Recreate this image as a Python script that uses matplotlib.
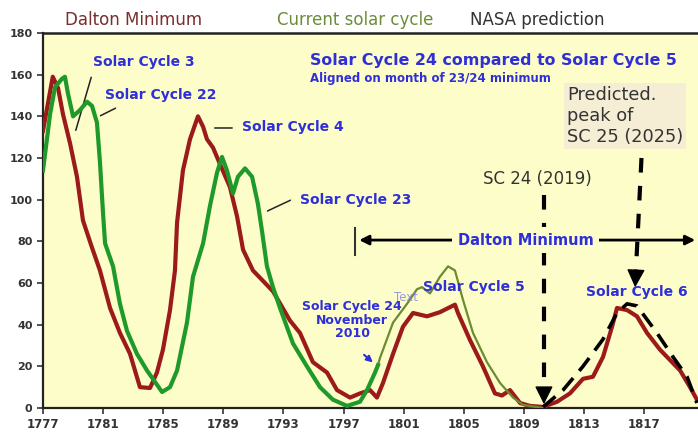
import matplotlib
matplotlib.use("Agg")
import matplotlib.pyplot as plt

# Dalton Minimum (cycles 3 - 6), monthly-ish readings
dalton_year = [1777.00, 1777.65, 1778.00, 1778.33, 1778.80, 1779.26, 1779.66, 1780.26, 1780.79,
               1781.46, 1782.12, 1782.79, 1783.45, 1784.12, 1784.58, 1784.98, 1785.45, 1785.78,
               1785.92, 1786.31, 1786.78, 1787.31, 1787.65, 1787.91, 1788.31, 1788.78, 1789.44,
               1789.91, 1790.31, 1790.97, 1791.64, 1792.30, 1793.43, 1794.10, 1794.96, 1795.90,
               1796.56, 1797.43, 1798.09, 1798.76, 1799.22, 1799.62, 1800.29, 1800.95, 1801.62,
               1802.55, 1803.41, 1804.41, 1804.61, 1805.41, 1806.27, 1807.07, 1807.54, 1808.07,
               1808.74, 1809.40, 1810.27, 1811.20, 1812.06, 1812.93, 1813.59, 1814.26, 1814.86,
               1815.19, 1815.86, 1816.52, 1817.19, 1818.05, 1818.72, 1819.39, 1820.05, 1820.51]
dalton_ssn = [133, 159, 153.6, 141, 127, 111, 90, 77, 66,
              48, 36, 26, 10, 9.6, 17, 28, 47, 66,
              89, 114, 129, 140, 135, 129, 125, 117, 106,
              92, 76, 66, 61, 56, 42, 36, 22, 17,
              8.6, 5, 7, 8.6, 5, 12, 26, 39, 45.6,
              44, 46, 49.6, 45.6, 32.6, 20, 7, 6, 8.6,
              2.4, 1, 0.5, 3, 7, 14, 15, 24.5, 39,
              48, 47, 44, 36, 28, 23, 18, 10, 4]

# current cycles (22, 23, 24) shifted onto the old calendar
current_year = [1777.00, 1777.47, 1777.80, 1778.26, 1778.46, 1778.66, 1779.00, 1779.46, 1779.93,
                1780.26, 1780.59, 1780.79, 1780.99, 1781.13, 1781.66, 1782.12, 1782.59, 1783.25,
                1783.92, 1784.92, 1785.45, 1785.92, 1786.58, 1786.98, 1787.65, 1788.11, 1788.58,
                1788.91, 1789.24, 1789.64, 1789.97, 1790.44, 1790.91, 1791.30, 1791.57, 1791.90,
                1792.30, 1792.77, 1793.63, 1794.56, 1795.43, 1796.29, 1797.23, 1798.09, 1798.56,
                1799.09, 1799.29]
current_ssn = [114, 141, 154, 158, 159, 151, 140, 143, 147,
               145, 137, 118, 94, 79, 68, 50, 37, 26,
               18, 7.7, 10, 18, 41, 63, 79, 97, 113,
               120.5, 114, 103, 111, 115, 111, 98, 85, 68,
               58, 48, 31, 20, 10, 4, 1, 3, 8.6,
               17, 20.6]

# rest of cycle 24 (thin olive line)
sc24_year = [1799.29, 1799.42, 1800.29, 1801.22, 1801.88, 1802.22, 1802.75, 1803.41, 1803.95,
             1804.41, 1804.94, 1805.61, 1806.54, 1807.41, 1808.27, 1808.94, 1810.27]
sc24_ssn = [20.6, 24, 41, 50, 57, 58, 55, 63, 68,
            66, 52, 36, 22, 12, 5, 1.5, 0]

# NASA prediction for cycle 25
nasa_year = [1810.27, 1811.60, 1812.93, 1814.26, 1815.19, 1815.86, 1816.52, 1817.85, 1818.92,
             1819.85, 1820.51]
nasa_ssn = [0.5, 8.6, 20, 33, 45.6, 50, 49, 36, 24.5, 15, 2.4]

x_ticks = list(range(1777, 1818, 4))
y_ticks = list(range(0, 181, 20))

BLUE = '#2f2fd8'
RED = '#9c1a1a'
GREEN = '#1f9a2a'
OLIVE = '#6b8c30'

fig = plt.figure(figsize=(6.98, 4.34), dpi=100)
fig.patch.set_facecolor('white')
ax = fig.add_axes([0.0616, 0.0599, 0.9384, 0.8641])
ax.set_facecolor('#fdfdca')

ax.plot(dalton_year, dalton_ssn, color=RED, lw=3.0, solid_joinstyle='round', zorder=3)
ax.plot(current_year, current_ssn, color=GREEN, lw=3.0, solid_joinstyle='round', zorder=4)
ax.plot(sc24_year, sc24_ssn, color=OLIVE, lw=1.6, zorder=3)
ax.plot(nasa_year, nasa_ssn, color='black', lw=2.6, dashes=(4.5, 2.6), zorder=5)

ax.set_xlim(1777, 1820.58)
ax.set_ylim(0, 180)
ax.set_xticks(x_ticks)
ax.set_yticks(y_ticks)
ax.tick_params(axis='both', direction='out', length=4, width=1.2, colors='#333333')
for lab in ax.get_xticklabels():
    lab.set_fontsize(8.5)
    lab.set_fontweight('bold')
for lab in ax.get_yticklabels():
    lab.set_fontsize(8)
    lab.set_fontweight('bold')
ax.spines['right'].set_visible(False)
ax.spines['top'].set_linewidth(1.8)
ax.spines['left'].set_linewidth(1.6)
ax.spines['bottom'].set_linewidth(1.6)
for s in ['top', 'left', 'bottom']:
    ax.spines[s].set_color('#222222')

# legend-like texts above the plot
fig.text(0.093, 0.954, 'Dalton Minimum', color='#7a2e2e', fontsize=12, va='center')
fig.text(0.397, 0.954, 'Current solar cycle', color='#6b8c3a', fontsize=12, va='center')
fig.text(0.673, 0.954, 'NASA prediction', color='#333333', fontsize=12, va='center')

# headline
ax.text(1794.76, 167, 'Solar Cycle 24 compared to Solar Cycle 5', color=BLUE,
        fontsize=11.4, fontweight='bold', va='center')
ax.text(1794.76, 158, 'Aligned on month of 23/24 minimum', color=BLUE,
        fontsize=8.5, fontweight='bold', va='center')

# cycle labels
lab_kw = dict(color=BLUE, fontsize=10, fontweight='bold', va='center')
ax.text(1780.33, 166, 'Solar Cycle 3', **lab_kw)
ax.text(1781.13, 150, 'Solar Cycle 22', **lab_kw)
ax.text(1790.24, 135, 'Solar Cycle 4', **lab_kw)
ax.text(1794.10, 100, 'Solar Cycle 23', **lab_kw)
ax.text(1802.28, 58, 'Solar Cycle 5', zorder=6, **lab_kw)
ax.text(1813.13, 55.7, 'Solar Cycle 6', zorder=6, **lab_kw)
ax.text(1797.56, 42, 'Solar Cycle 24\nNovember\n2010', color=BLUE, fontsize=9,
        fontweight='bold', ha='center', va='center', linespacing=1.05, zorder=6)
ax.text(1800.35, 53, 'Text', color='#8080e8', fontsize=8.5, alpha=0.8, va='center', zorder=6)

# leader lines
lead = dict(arrowstyle='-', color='#222222', lw=1.1)
ax.annotate('', xy=(1779.13, 132), xytext=(1780.26, 160), arrowprops=lead)
ax.annotate('', xy=(1780.66, 139.7), xytext=(1781.99, 144.5), arrowprops=lead)
ax.annotate('', xy=(1788.24, 134.4), xytext=(1789.77, 134.4), arrowprops=lead)
ax.annotate('', xy=(1791.77, 94), xytext=(1793.63, 100.3), arrowprops=lead)
ax.annotate('', xy=(1799.09, 21), xytext=(1798.22, 26.4),
            arrowprops=dict(arrowstyle='-|>', color=BLUE, lw=1.5, mutation_scale=9))

# predicted peak box
ax.text(1811.86, 154.5, 'Predicted.\npeak of\nSC 25 (2025)', color='#333333', fontsize=12.8,
        va='top', ha='left', linespacing=1.2,
        bbox=dict(facecolor='#f5eed4', edgecolor='none', pad=2))
ax.text(1809.87, 110, 'SC 24 (2019)', color='#333333', fontsize=12, ha='center', va='center')

# dashed arrows
dash_kw = dict(color='black', lw=3.0, dashes=(3.5, 3.2))
ax.plot([1810.33, 1810.33], [102, 9], **dash_kw)
ax.annotate('', xy=(1810.33, 0.5), xytext=(1810.33, 9),
            arrowprops=dict(arrowstyle='-|>', color='black', lw=1, mutation_scale=28))
ax.plot([1816.82, 1816.45], [120, 66], **dash_kw)
ax.annotate('', xy=(1816.39, 56.6), xytext=(1816.45, 66),
            arrowprops=dict(arrowstyle='-|>', color='black', lw=1, mutation_scale=28))

# Dalton Minimum span
ax.annotate('', xy=(1797.85, 80.6), xytext=(1820.58, 80.6),
            arrowprops=dict(arrowstyle='<|-|>', color='black', lw=2.0, mutation_scale=14),
            annotation_clip=False)
ax.plot([1797.76, 1797.76], [73.4, 86.4], color='#333333', lw=1.5)
ax.text(1809.13, 80.6, 'Dalton Minimum', color=BLUE, fontsize=10.5, fontweight='bold',
        ha='center', va='center', zorder=6,
        bbox=dict(facecolor='#fdfdca', edgecolor='none', pad=4))

fig.savefig('out.png', dpi=100)
